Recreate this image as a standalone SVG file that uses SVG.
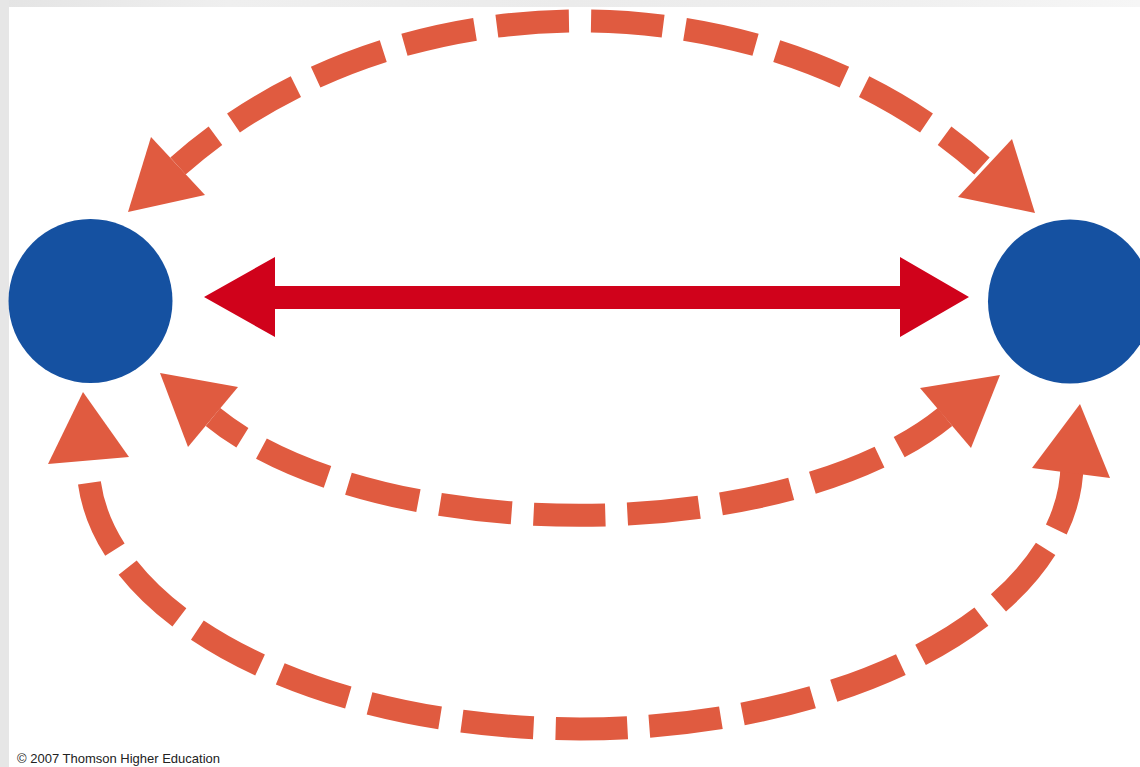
<svg xmlns="http://www.w3.org/2000/svg" width="1140" height="767" viewBox="0 0 1140 767">
  <defs>
    <linearGradient id="topStrip" x1="0" y1="0" x2="1" y2="0">
      <stop offset="0" stop-color="#e4e4e4"/>
      <stop offset="0.2" stop-color="#efefef"/>
      <stop offset="0.5" stop-color="#ebebeb"/>
      <stop offset="0.8" stop-color="#f0f0f0"/>
      <stop offset="1" stop-color="#f6f6f6"/>
    </linearGradient>
  </defs>
  <style>
    .node { fill: #1551a1; }
    .dash { fill: none; stroke: #e05b40; stroke-width: 23; stroke-dasharray: 72 22; }
    .head { fill: #e05b40; }
    .bond { fill: #d0021b; }
    .credit { font-family: "Liberation Sans", Arial, sans-serif; font-size: 13px; fill: #222222; }
  </style>

  <g id="background">
    <rect x="0" y="0" width="1140" height="767" fill="#ffffff"/>
    <rect x="0" y="0" width="1140" height="7" fill="url(#topStrip)"/>
    <rect x="0" y="0" width="9" height="767" fill="#e6e6e6"/>
  </g>

  <g id="connectors">
    <path id="top-arc" class="dash" d="M 178 166 A 550 457 0 0 1 982 166" pathLength="870" stroke-dashoffset="24"/>
    <polygon class="head" points="128,212 151,137 205,195"/>
    <polygon class="head" points="1035,213 1012,139 958,197"/>

    <path id="middle-arc" class="dash" d="M 213 417 A 420 193 0 0 0 945 417" pathLength="771" stroke-dashoffset="36"/>
    <polygon class="head" points="160,373 238,387 188,447"/>
    <polygon class="head" points="1000,375 920,388 971,448"/>

    <path id="bottom-arc" class="dash" d="M 88 463 A 492 266 0 0 0 1072 463" pathLength="1217" stroke-dashoffset="74"/>
    <polygon class="head" points="83,392 48,464 129,457"/>
    <polygon class="head" points="1080,404 1032,468 1110,478"/>

    <polygon id="bond" class="bond" points="204,297 275,257 275,286 900,286 900,257 969,297 900,337 900,309 275,309 275,337"/>
  </g>

  <g id="node-left">
    <circle class="node" cx="90.5" cy="301" r="82"/>
  </g>
  <g id="node-right">
    <circle class="node" cx="1070" cy="301.5" r="82"/>
  </g>

  <g id="credit">
    <text class="credit" x="17" y="763">© 2007 Thomson Higher Education</text>
  </g>
</svg>
